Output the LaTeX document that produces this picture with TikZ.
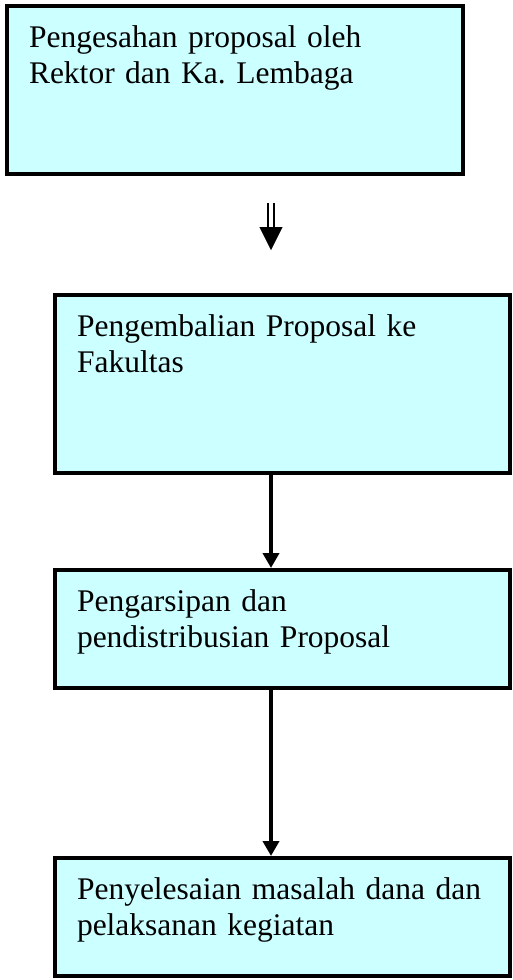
\documentclass[tikz,border=0pt]{standalone}
\usepackage{fontspec}
\setmainfont{Liberation Serif}
\frenchspacing
\usetikzlibrary{arrows.meta,positioning}
\definecolor{kotakcyan}{RGB}{204,255,255}
\tikzstyle{kotak} = [rectangle, draw=black, line width=4pt, fill=kotakcyan, anchor=north west, align=left, inner xsep=22pt, inner ysep=10pt, text height=31pt, font=\fontsize{31.5}{36}\selectfont]
\tikzstyle{arrow} = [line width=4pt,-{Triangle[length=15pt,width=16pt]}]

\begin{document}
\begin{tikzpicture}[x=1pt,y=1pt]%
\useasboundingbox (0,0) rectangle (512,-980);
\draw (5,-4) node (b1) [kotak, text width=412pt, text depth=117pt] {Pengesahan proposal oleh\\Rektor dan Ka. Lembaga};
\draw (53,-293) node (b2) [kotak, text width=411pt, text depth=127pt] {Pengembalian Proposal ke\\Fakultas};
\draw (53,-568) node (b3) [kotak, text width=411pt, text depth=67pt] {Pengarsipan dan\\pendistribusian Proposal};
\draw (53,-856) node (b4) [kotak, text width=411pt, text depth=67pt] {Penyelesaian masalah dana dan\\pelaksanan kegiatan};
% panah ganda
\coordinate (d1) at (271,-203);
\coordinate (d3) at (271,-227);
\coordinate (d2) at (271,-250);
\draw[double, line width=2pt, double distance=3.5pt] (d1)--(d3);
\draw[-{Triangle[length=23pt,width=23pt]}] (d3)--(d2);
\draw[arrow] (b2.south -| d1)--(b3.north -| d1);
\draw[arrow] (b3.south -| d1)--(b4.north -| d1);
\end{tikzpicture}
\end{document}
